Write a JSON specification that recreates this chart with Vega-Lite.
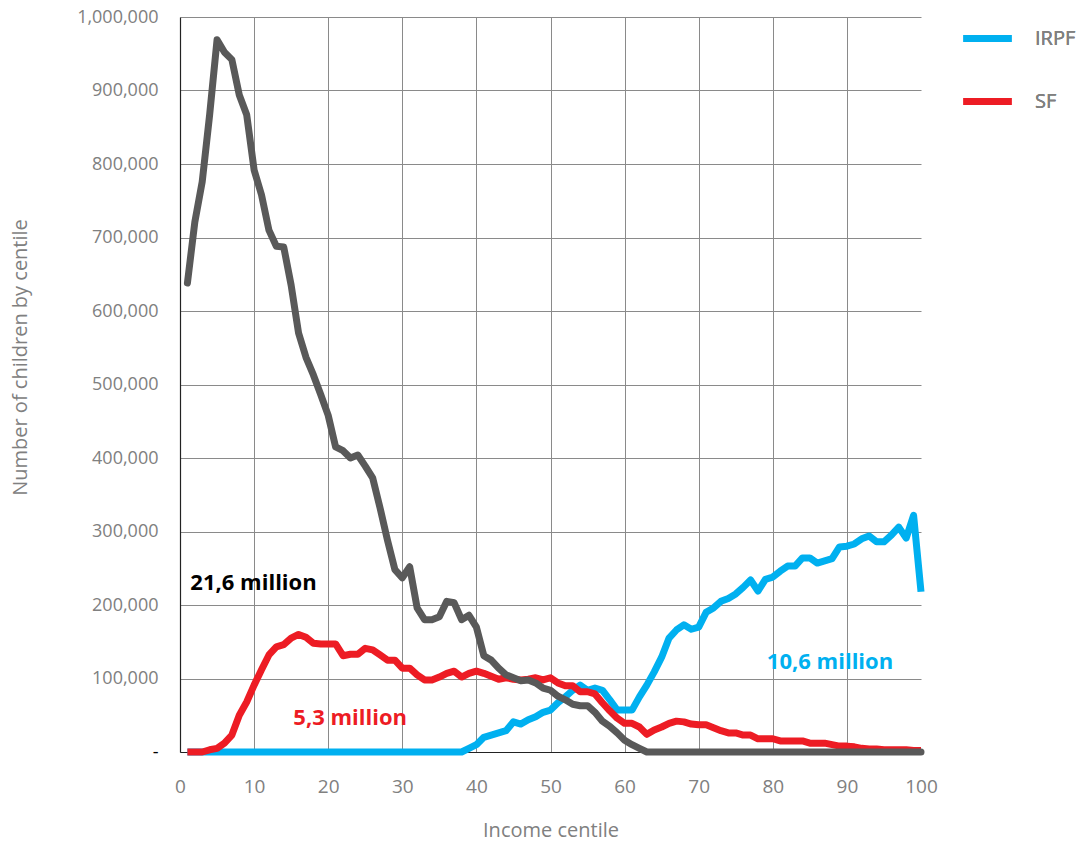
{
  "$schema": "https://vega.github.io/schema/vega-lite/v6.json",
  "autosize": {"type": "none"},
  "padding": {"left": 180, "top": 17, "right": 158, "bottom": 91},
  "width": 741,
  "height": 735,
  "background": "white",
  "config": {
    "view": {"stroke": null},
    "font": "Open Sans",
    "axis": {"labelFont": "Open Sans", "titleFont": "Open Sans"},
    "legend": {"labelFont": "Open Sans"}
  },
  "datasets": {
    "series": [
      {"c":1,"IRPF":0,"SF":0,"Other":638000},
      {"c":2,"IRPF":0,"SF":0,"Other":721000},
      {"c":3,"IRPF":0,"SF":0,"Other":776000},
      {"c":4,"IRPF":0,"SF":3000,"Other":867000},
      {"c":5,"IRPF":0,"SF":5000,"Other":969000},
      {"c":6,"IRPF":0,"SF":12000,"Other":952000},
      {"c":7,"IRPF":0,"SF":23000,"Other":942000},
      {"c":8,"IRPF":0,"SF":50000,"Other":894000},
      {"c":9,"IRPF":0,"SF":68000,"Other":867000},
      {"c":10,"IRPF":0,"SF":91000,"Other":792000},
      {"c":11,"IRPF":0,"SF":112000,"Other":758000},
      {"c":12,"IRPF":0,"SF":132000,"Other":710000},
      {"c":13,"IRPF":0,"SF":143000,"Other":688000},
      {"c":14,"IRPF":0,"SF":146000,"Other":687000},
      {"c":15,"IRPF":0,"SF":155000,"Other":635000},
      {"c":16,"IRPF":0,"SF":160000,"Other":570000},
      {"c":17,"IRPF":0,"SF":156000,"Other":537000},
      {"c":18,"IRPF":0,"SF":148000,"Other":513000},
      {"c":19,"IRPF":0,"SF":147000,"Other":486000},
      {"c":20,"IRPF":0,"SF":147000,"Other":458000},
      {"c":21,"IRPF":0,"SF":147000,"Other":415000},
      {"c":22,"IRPF":0,"SF":131000,"Other":410000},
      {"c":23,"IRPF":0,"SF":133000,"Other":400000},
      {"c":24,"IRPF":0,"SF":133000,"Other":404000},
      {"c":25,"IRPF":0,"SF":141000,"Other":389000},
      {"c":26,"IRPF":0,"SF":139000,"Other":373000},
      {"c":27,"IRPF":0,"SF":132000,"Other":332000},
      {"c":28,"IRPF":0,"SF":125000,"Other":288000},
      {"c":29,"IRPF":0,"SF":125000,"Other":248000},
      {"c":30,"IRPF":0,"SF":114000,"Other":237000},
      {"c":31,"IRPF":0,"SF":114000,"Other":252000},
      {"c":32,"IRPF":0,"SF":105000,"Other":196000},
      {"c":33,"IRPF":0,"SF":98000,"Other":180000},
      {"c":34,"IRPF":0,"SF":98000,"Other":180000},
      {"c":35,"IRPF":0,"SF":102000,"Other":184000},
      {"c":36,"IRPF":0,"SF":107000,"Other":205000},
      {"c":37,"IRPF":0,"SF":110000,"Other":203000},
      {"c":38,"IRPF":0,"SF":102000,"Other":180000},
      {"c":39,"IRPF":5000,"SF":107000,"Other":186000},
      {"c":40,"IRPF":10000,"SF":110000,"Other":170000},
      {"c":41,"IRPF":20000,"SF":107000,"Other":131000},
      {"c":42,"IRPF":23000,"SF":103000,"Other":125000},
      {"c":43,"IRPF":26000,"SF":99000,"Other":114000},
      {"c":44,"IRPF":29000,"SF":101000,"Other":105000},
      {"c":45,"IRPF":41000,"SF":99000,"Other":101000},
      {"c":46,"IRPF":38000,"SF":98000,"Other":97000},
      {"c":47,"IRPF":44000,"SF":99000,"Other":98000},
      {"c":48,"IRPF":48000,"SF":101000,"Other":94000},
      {"c":49,"IRPF":54000,"SF":98000,"Other":87000},
      {"c":50,"IRPF":57000,"SF":101000,"Other":84000},
      {"c":51,"IRPF":67000,"SF":94000,"Other":76000},
      {"c":52,"IRPF":75000,"SF":90000,"Other":71000},
      {"c":53,"IRPF":84000,"SF":90000,"Other":65000},
      {"c":54,"IRPF":91000,"SF":82000,"Other":63000},
      {"c":55,"IRPF":84000,"SF":82000,"Other":63000},
      {"c":56,"IRPF":87000,"SF":79000,"Other":54000},
      {"c":57,"IRPF":84000,"SF":67000,"Other":42000},
      {"c":58,"IRPF":71000,"SF":56000,"Other":35000},
      {"c":59,"IRPF":57000,"SF":46000,"Other":26000},
      {"c":60,"IRPF":57000,"SF":39000,"Other":16000},
      {"c":61,"IRPF":57000,"SF":39000,"Other":10000},
      {"c":62,"IRPF":75000,"SF":34000,"Other":5000},
      {"c":63,"IRPF":91000,"SF":24000,"Other":0},
      {"c":64,"IRPF":109000,"SF":30000,"Other":0},
      {"c":65,"IRPF":129000,"SF":34000,"Other":0},
      {"c":66,"IRPF":155000,"SF":39000,"Other":0},
      {"c":67,"IRPF":166000,"SF":42000,"Other":0},
      {"c":68,"IRPF":173000,"SF":41000,"Other":0},
      {"c":69,"IRPF":167000,"SF":38000,"Other":0},
      {"c":70,"IRPF":170000,"SF":37000,"Other":0},
      {"c":71,"IRPF":190000,"SF":37000,"Other":0},
      {"c":72,"IRPF":196000,"SF":33000,"Other":0},
      {"c":73,"IRPF":205000,"SF":29000,"Other":0},
      {"c":74,"IRPF":209000,"SF":26000,"Other":0},
      {"c":75,"IRPF":215000,"SF":26000,"Other":0},
      {"c":76,"IRPF":224000,"SF":23000,"Other":0},
      {"c":77,"IRPF":234000,"SF":23000,"Other":0},
      {"c":78,"IRPF":219000,"SF":18000,"Other":0},
      {"c":79,"IRPF":235000,"SF":18000,"Other":0},
      {"c":80,"IRPF":238000,"SF":18000,"Other":0},
      {"c":81,"IRPF":246000,"SF":15000,"Other":0},
      {"c":82,"IRPF":253000,"SF":15000,"Other":0},
      {"c":83,"IRPF":253000,"SF":15000,"Other":0},
      {"c":84,"IRPF":264000,"SF":15000,"Other":0},
      {"c":85,"IRPF":264000,"SF":12000,"Other":0},
      {"c":86,"IRPF":257000,"SF":12000,"Other":0},
      {"c":87,"IRPF":260000,"SF":12000,"Other":0},
      {"c":88,"IRPF":263000,"SF":10000,"Other":0},
      {"c":89,"IRPF":279000,"SF":8000,"Other":0},
      {"c":90,"IRPF":280000,"SF":8000,"Other":0},
      {"c":91,"IRPF":283000,"SF":7000,"Other":0},
      {"c":92,"IRPF":290000,"SF":5000,"Other":0},
      {"c":93,"IRPF":294000,"SF":4000,"Other":0},
      {"c":94,"IRPF":286000,"SF":4000,"Other":0},
      {"c":95,"IRPF":286000,"SF":3000,"Other":0},
      {"c":96,"IRPF":295000,"SF":3000,"Other":0},
      {"c":97,"IRPF":306000,"SF":3000,"Other":0},
      {"c":98,"IRPF":291000,"SF":3000,"Other":0},
      {"c":99,"IRPF":322000,"SF":2000,"Other":0},
      {"c":100,"IRPF":218000,"SF":2000,"Other":0}
    ],
    "notes": [
      {"c":1.4,"v":230000,"t":"21,6 million","k":"Other"},
      {"c":15.3,"v":46000,"t":"5,3 million","k":"SF"},
      {"c":79.2,"v":122000,"t":"10,6 million","k":"IRPF"}
    ]
  },
  "data": {"name": "series"},
  "transform": [{"fold": ["IRPF", "SF", "Other"], "as": ["k", "v"]}],
  "encoding": {
    "x": {
      "field": "c", "type": "quantitative",
      "scale": {"domain": [0, 100], "nice": false, "zero": false},
      "axis": {
        "title": "Income centile",
        "values": [0,10,20,30,40,50,60,70,80,90,100],
        "grid": true,
        "gridColor": {"condition": {"test": "datum.value == 0 || datum.value == 100", "value": "transparent"}, "value": "#8a8a8a"},
        "gridWidth": 1,
        "ticks": false,
        "labelFlush": false,
        "domainColor": "#222222",
        "domainWidth": 1.2,
        "labelColor": "#808080",
        "labelFontSize": 19,
        "labelPadding": 25,
        "titleColor": "#808080",
        "titleFontSize": 20,
        "titleFontWeight": "normal",
        "titlePadding": 24
      }
    },
    "y": {
      "field": "v", "type": "quantitative",
      "scale": {"domain": [0, 1000000], "nice": false},
      "axis": {
        "title": "Number of children by centile",
        "values": [0,100000,200000,300000,400000,500000,600000,700000,800000,900000,1000000],
        "labelExpr": "datum.value == 0 ? '-' : format(datum.value, ',')",
        "grid": true,
        "gridColor": "#8a8a8a",
        "gridWidth": 1,
        "ticks": false,
        "labelFlush": false,
        "domainColor": "#222222",
        "domainWidth": 1.2,
        "labelColor": {"condition": {"test": "datum.value == 0", "value": "#000000"}, "value": "#808080"},
        "labelFontSize": 18,
        "labelPadding": 22,
        "titleColor": "#808080",
        "titleFontSize": 20,
        "titleFontWeight": "normal",
        "titleBaseline": "middle",
        "titleX": -160,
        "titleY": 340
      }
    },
    "color": {
      "field": "k", "type": "nominal",
      "scale": {"domain": ["IRPF", "SF", "Other"], "range": ["#00B0F0", "#ED1C24", "#595959"]},
      "legend": {
        "values": ["IRPF", "SF"],
        "title": null,
        "orient": "none",
        "legendX": 780,
        "legendY": -6,
        "symbolType": "stroke",
        "symbolSize": 2304,
        "symbolStrokeWidth": 7,
        "labelFontSize": 20,
        "labelColor": "#808080",
        "labelOffset": 20,
        "rowPadding": 21
      }
    }
  },
  "layer": [
    {"transform": [{"filter": "datum.k == 'IRPF'"}], "mark": {"type": "line", "strokeWidth": 7, "strokeJoin": "round"}},
    {"transform": [{"filter": "datum.k == 'SF'"}], "mark": {"type": "line", "strokeWidth": 7, "strokeJoin": "round"}},
    {"transform": [{"filter": "datum.k == 'Other'"}], "mark": {"type": "line", "strokeWidth": 7, "strokeJoin": "round", "strokeCap": "round"}},
    {
      "data": {"name": "notes"},
      "transform": [],
      "mark": {"type": "text", "align": "left", "baseline": "middle", "fontSize": 22, "fontWeight": "bold", "font": "Open Sans"},
      "encoding": {
        "x": {"field": "c", "type": "quantitative"},
        "y": {"field": "v", "type": "quantitative"},
        "text": {"field": "t"},
        "color": {"field": "k", "type": "nominal", "scale": {"domain": ["IRPF", "SF", "Other"], "range": ["#00B0F0", "#ED1C24", "#000000"]}, "legend": null}
      }
    }
  ],
  "resolve": {"scale": {"color": "independent"}}
}
